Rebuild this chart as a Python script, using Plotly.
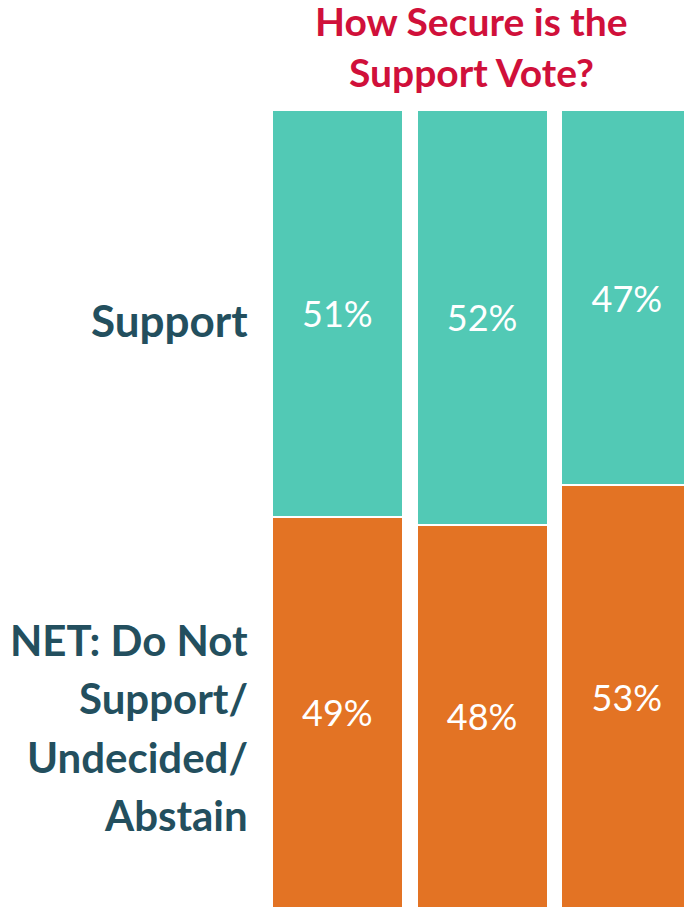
import plotly.graph_objects as go

# three unlabeled groups in the reference
groups = ["Group 1", "Group 2", "Group 3"]
support = [51, 52, 47]
not_support = [49, 48, 53]

support_label = ["Support"]
not_support_label = ["NET: Do Not", "Support/", "Undecided/", "Abstain"]
title_lines = ["How Secure is the", "Support Vote?"]

TEAL = "#52C9B5"
ORANGE = "#E37324"
LABEL = "#234F5E"
TITLE = "#D0103A"
FONT = "Lato, 'Open Sans', sans-serif"

W, H = 692, 908
M = dict(l=257, r=8, t=102, b=8)
PH = H - M["t"] - M["b"]
OFFSET = 8  # page puts the figure 8px in from the corner


def paper_y(page_px):
    # page pixel row -> paper y
    return 1 - (page_px - OFFSET - M["t"]) / PH


fig = go.Figure()

# bottom segment first so it stacks under support
fig.add_trace(go.Bar(
    x=groups, y=not_support, name=" ".join(not_support_label),
    marker=dict(color=ORANGE, line=dict(color="white", width=1.5)),
    text=[f"{v}%" for v in not_support], textposition="inside",
    insidetextanchor="middle",
    textfont=dict(color="white", size=36, family=FONT),
))
fig.add_trace(go.Bar(
    x=groups, y=support, name=support_label[0],
    marker=dict(color=TEAL, line=dict(color="white", width=1.5)),
    text=[f"{v}%" for v in support], textposition="inside",
    insidetextanchor="middle",
    textfont=dict(color="white", size=36, family=FONT),
))

# left-hand series labels, one annotation per line to get the wider line spacing
fig.add_annotation(
    x=-0.034, xref="paper", y=paper_y(320), yref="paper",
    text="<b>" + support_label[0] + "</b>", showarrow=False,
    xanchor="right", yanchor="middle",
    font=dict(size=44, color=LABEL, family=FONT),
)
for i, line in enumerate(not_support_label):
    fig.add_annotation(
        x=-0.034, xref="paper", y=paper_y(640 + 58.3 * i), yref="paper",
        text="<b>" + line + "</b>", showarrow=False,
        xanchor="right", yanchor="middle",
        font=dict(size=42, color=LABEL, family=FONT),
    )

for i, line in enumerate(title_lines):
    fig.add_annotation(
        x=0.484, xref="paper", y=paper_y(21 + 51 * i), yref="paper",
        text="<b>" + line + "</b>", showarrow=False,
        xanchor="center", yanchor="middle",
        font=dict(size=39, color=TITLE, family=FONT),
    )

fig.update_layout(
    width=W, height=H,
    barmode="stack", bargap=0.1,
    showlegend=False,
    paper_bgcolor="white", plot_bgcolor="white",
    margin=M,
    uniformtext=dict(minsize=10, mode="show"),
)
fig.update_xaxes(visible=False, range=[-0.5, 2.45])
fig.update_yaxes(visible=False, range=[0, 100])

fig.write_html("out.html")
